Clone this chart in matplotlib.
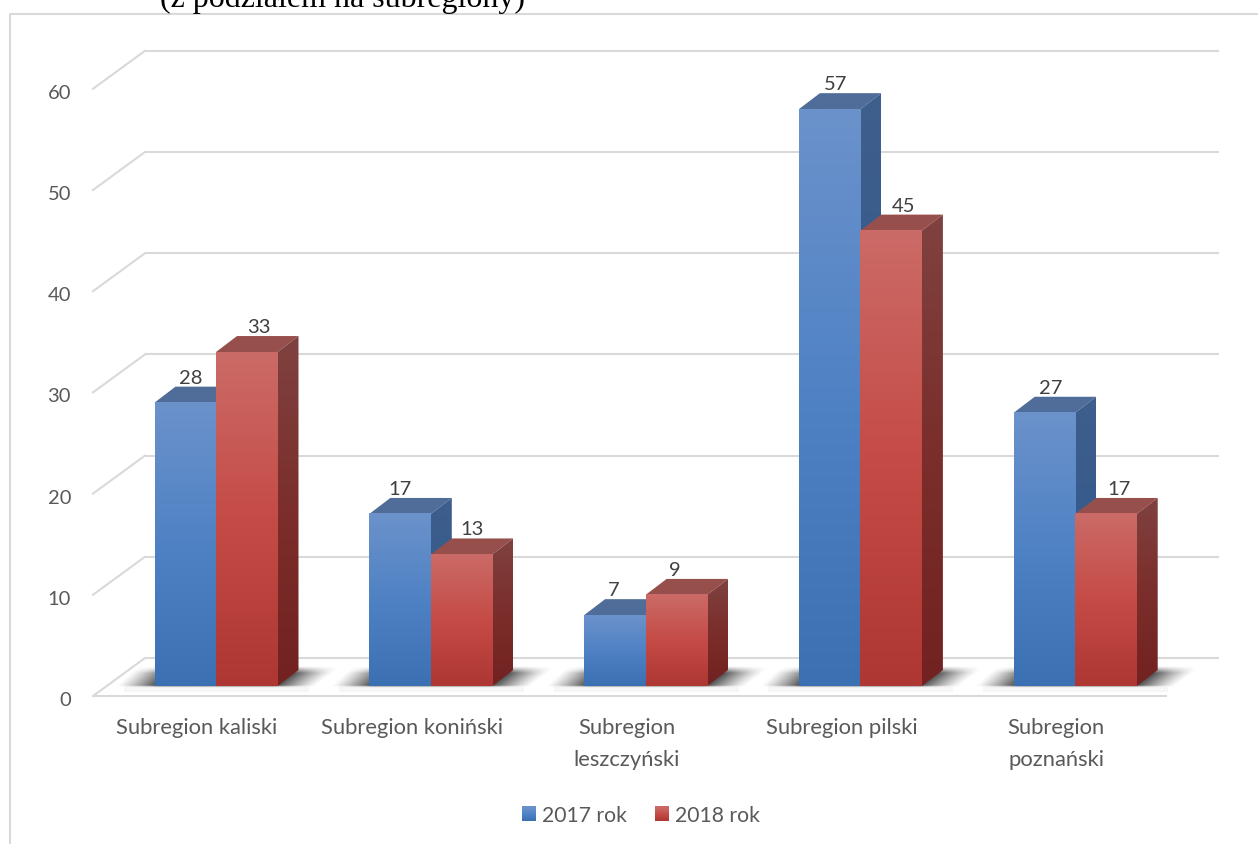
import numpy as np
import matplotlib
matplotlib.use("Agg")
import matplotlib.pyplot as plt
from matplotlib.colors import LinearSegmentedColormap
from matplotlib.legend_handler import HandlerBase
from matplotlib.patches import Patch, Polygon, Rectangle

# data
categories = ["Subregion kaliski", "Subregion koniński", "Subregion\nleszczyński",
              "Subregion pilski", "Subregion\npoznański"]
values_2017 = [28, 17, 7, 57, 27]
values_2018 = [33, 13, 9, 45, 17]
series_names = ["2017 rok", "2018 rok"]
y_ticks = [0, 10, 20, 30, 40, 50, 60]
title_tail = "(z podziałem na subregiony)"

# small nudges of the value labels, in pixels
label_nudge_2017 = [5, 0, -1, 6, 6]
label_nudge_2018 = [12, 10, -2, 12, 13]

W, H = 1258, 845
PX_X = 214.8   # pixels per category
PX_Y = 10.12   # pixels per value unit
X0 = 216       # pixel of first category centre
Y0 = 687       # pixel of value 0 on the bars' front plane


def dx(px):
    return px / PX_X


def dy(px):
    return px / PX_Y


GRID = "#d9d9d9"
TXT = "#595959"
BLUE = ["#6b92cb", "#4f82c4", "#3b70b3"]
RED = ["#cb6b67", "#c54b46", "#ae3733"]
BLUE_SIDE = ["#3f5f8c", "#345a8c", "#2c5285"]
RED_SIDE = ["#7f4240", "#7b2e2b", "#722220"]
BLUE_TOP = "#4f6d98"
RED_TOP = "#974f4c"

plt.rcParams["font.family"] = ["Lato", "DejaVu Sans"]

fig = plt.figure(figsize=(W / 100, H / 100), dpi=100)
ax = fig.add_axes([0, 0, 1, 1])
ax.set_axis_off()


def gradient(colors, extent, zorder, clip=None):
    cmap = LinearSegmentedColormap.from_list("g", colors)
    im = ax.imshow(np.linspace(0, 1, 256).reshape(-1, 1), cmap=cmap, extent=extent,
                   origin="upper", aspect="auto", zorder=zorder, interpolation="bilinear")
    if clip is not None:
        clip.set_transform(ax.transData)
        im.set_clip_path(clip)
    return im


def draw_bar(left, val, width, front, side, top, zorder):
    d_x, d_y = dx(21), dy(16)
    right = left + width
    ax.add_patch(Polygon([(left, val), (left + d_x, val + d_y), (right + d_x, val + d_y), (right, val)],
                         closed=True, fc=top, ec="none", zorder=zorder))
    side_poly = Polygon([(right, 0), (right + d_x, d_y), (right + d_x, val + d_y), (right, val)], closed=True)
    gradient(side, (right, right + d_x, 0, val + d_y), zorder, clip=side_poly)
    gradient(front, (left, right, 0, val), zorder + 0.1)


def draw_shadow(center):
    # soft dark shape lying on the floor behind a bar pair
    xs = np.linspace(center - dx(120), center + dx(145), 400)
    ys = np.linspace(dy(-3), dy(26), 80)
    gx, gy = np.meshgrid(xs, ys)
    t = np.clip(gy / dy(19), 0, 1)
    lo = center + dx(-100 + 20 * t)
    hi = center + dx(100 + 25 * t)
    fade = dx(42)
    a = np.clip((gx - lo) / fade, 0, 1) * np.clip((hi - gx) / fade, 0, 1)
    a = a * np.clip((gy - dy(-1.5)) / dy(2), 0, 1) * np.clip((dy(20) - gy) / dy(7), 0, 1)
    rgba = np.zeros(gx.shape + (4,))
    rgba[..., 3] = 0.75 * a ** 1.2
    ax.imshow(rgba, extent=(xs[0], xs[-1], ys[0], ys[-1]), origin="lower", aspect="auto",
              zorder=3, interpolation="bilinear")


# back wall, left wall and floor lines
back_x0, back_x1 = dx(145 - X0), dx(1219 - X0)
front_x0, front_x1 = dx(93 - X0), dx(1167 - X0)
back_up, front_down = dy(28), dy(-10)
for t in y_ticks:
    ax.plot([back_x0, back_x1], [t + back_up] * 2, color=GRID, lw=1.5, zorder=1, solid_capstyle="butt")
    ax.plot([front_x0, back_x0], [t + front_down, t + back_up], color=GRID, lw=1.5, zorder=1)
    ax.text(dx(71 - X0), t + dy(-13.5), str(t), ha="right", va="center", color=TXT, fontsize=14.5)
ax.plot([front_x0, front_x1], [front_down] * 2, color=GRID, lw=1.5, zorder=1, solid_capstyle="butt")

bar_w = dx(61.5)
for i, cat in enumerate(categories):
    # faint band of the floor under each shadow
    ax.add_patch(Rectangle((i - dx(92), dy(-6)), dx(185), dy(5), fc="#f6f6f6", ec="none", zorder=0.5))
    draw_shadow(i)
    draw_bar(i - bar_w, values_2017[i], bar_w, BLUE, BLUE_SIDE, BLUE_TOP, 4)
    draw_bar(i, values_2018[i], bar_w, RED, RED_SIDE, RED_TOP, 5)
    ax.text(i + dx(-19), dy(-31.5), cat, ha="center", va="top", color=TXT, fontsize=15.8, linespacing=1.72)
    ax.text(i - bar_w / 2 + dx(label_nudge_2017[i]), values_2017[i] + dy(25.5), str(values_2017[i]),
            ha="center", va="center", color="#404040", fontsize=14.5, zorder=6)
    ax.text(i + bar_w / 2 + dx(label_nudge_2018[i]), values_2018[i] + dy(25.5), str(values_2018[i]),
            ha="center", va="center", color="#404040", fontsize=14.5, zorder=6)

ax.set_xlim(-X0 / PX_X, (W - X0) / PX_X)
ax.set_ylim((Y0 - H) / PX_Y, Y0 / PX_Y)


class GradientSquare(HandlerBase):
    # legend key with the same vertical fade as the bars
    def __init__(self, colors):
        super().__init__()
        self.cmap = LinearSegmentedColormap.from_list("k", colors)

    def create_artists(self, legend, orig_handle, xd, yd, width, height, fontsize, trans):
        n = 14
        out = []
        for k in range(n):
            out.append(Rectangle((-xd, -yd + height * k / n), width, height / n + 0.2,
                                 fc=self.cmap(1 - k / (n - 1)), ec="none", transform=trans))
        return out


h1 = Patch(label=series_names[0])
h2 = Patch(label=series_names[1])
ax.legend(handles=[h1, h2], handler_map={h1: GradientSquare(BLUE), h2: GradientSquare(RED)},
          loc="center", bbox_to_anchor=(641 / W, 1 - 816 / H), ncol=2, frameon=False, fontsize=15.2,
          labelcolor=TXT, handlelength=0.66, handleheight=0.66, handletextpad=0.3, columnspacing=1.3)

# chart frame, cut by the page edges
fig.add_artist(plt.Line2D([10 / W, 10 / W, 1], [0, 1 - 15 / H, 1 - 15 / H], color=GRID, lw=1.5))

# end of the page heading, its top runs off the page in the reference too
fig.text(160 / W, 1 - 7 / H, title_tail, family="Liberation Serif", fontsize=23, color="black",
         ha="left", va="baseline")

fig.savefig("out.png", dpi=100)
